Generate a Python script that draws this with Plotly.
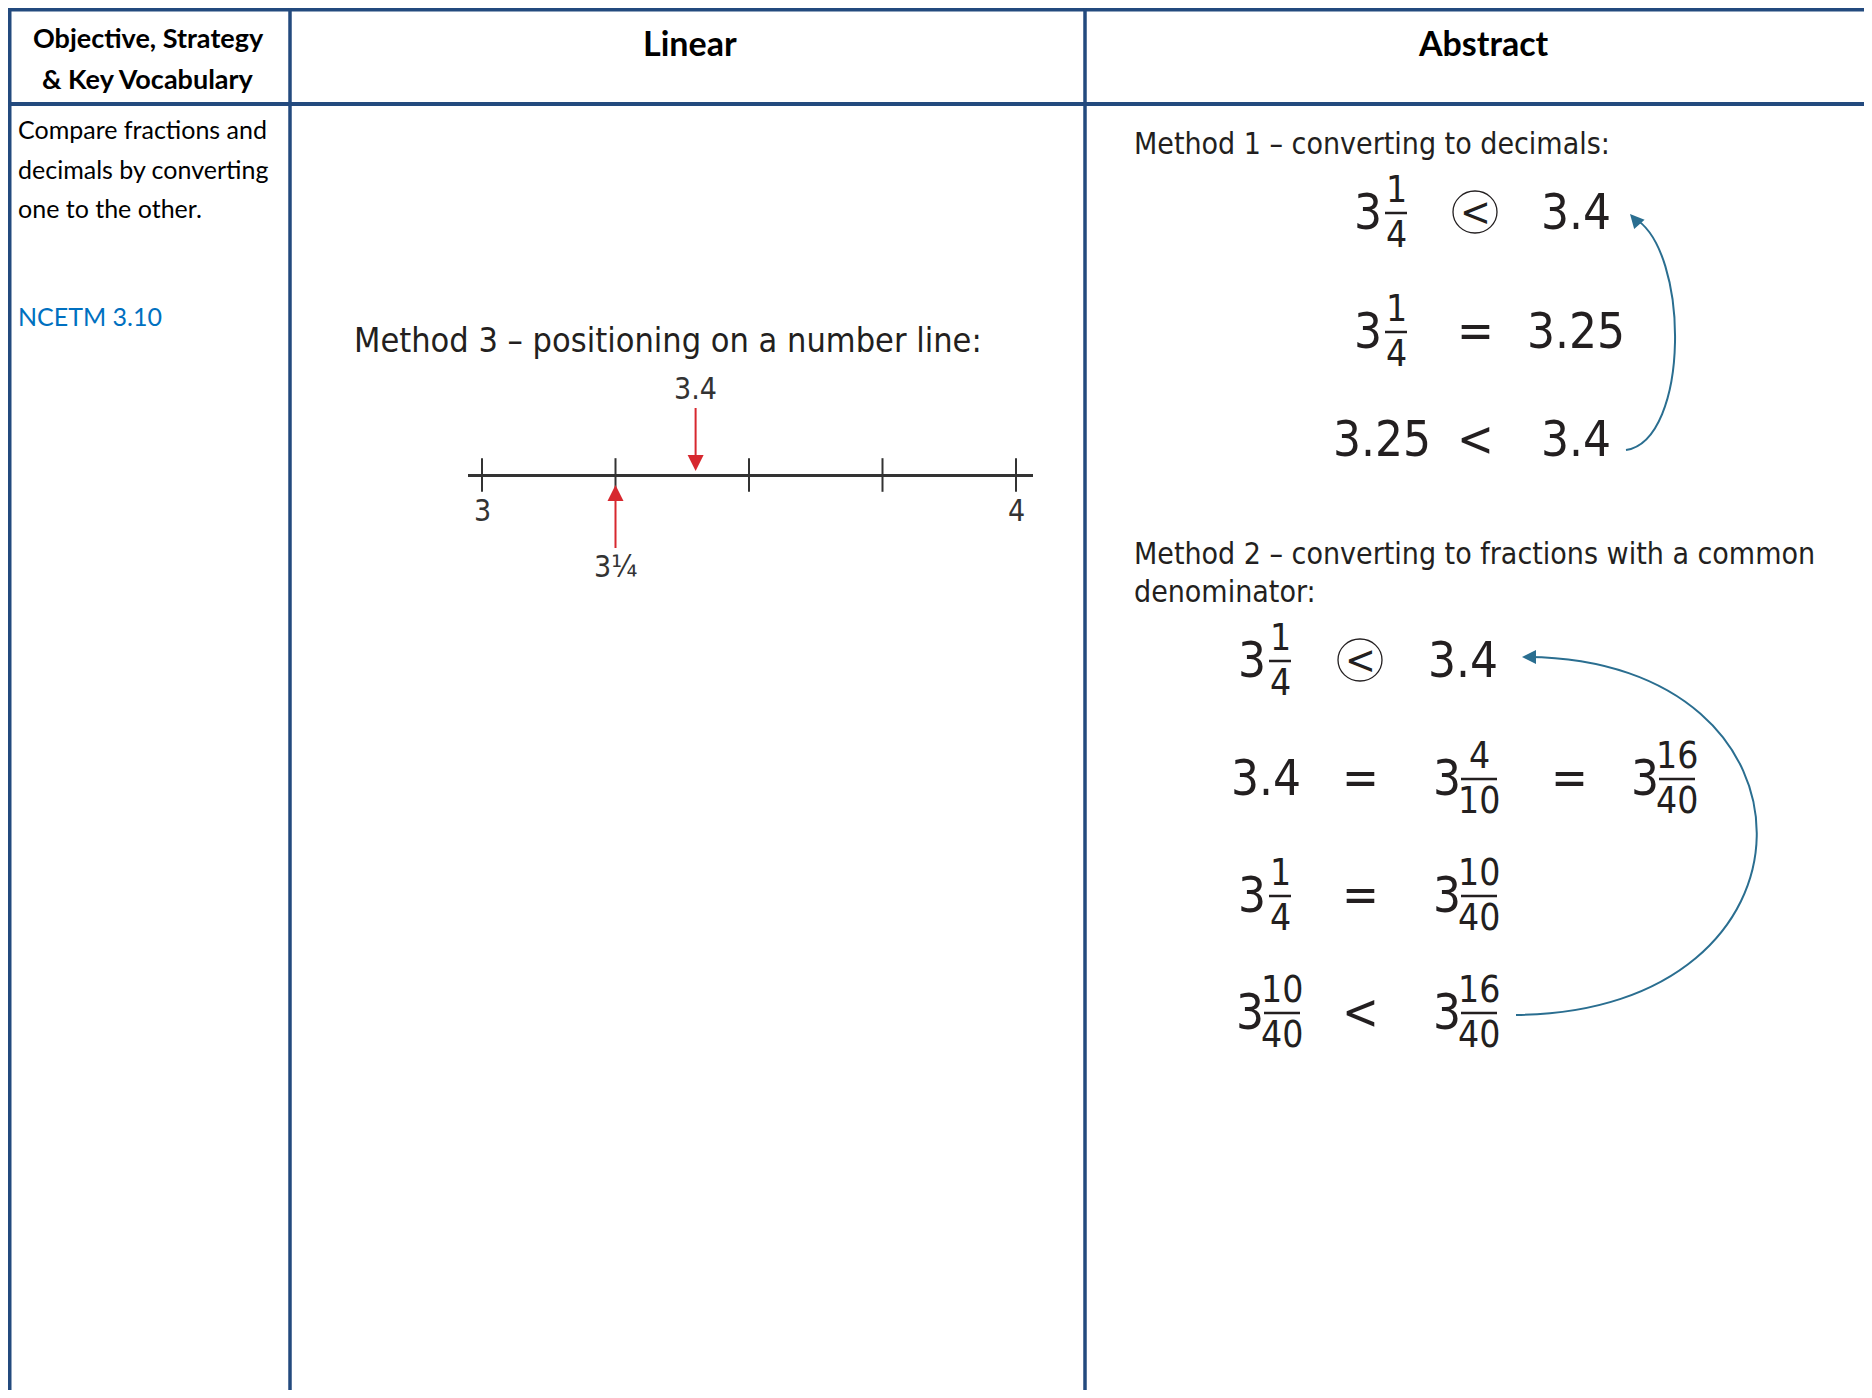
import plotly.graph_objects as go

# ---- table text ----
header_titles = ["Objective, Strategy", "& Key Vocabulary", "Linear", "Abstract"]
objective_lines = ["Compare fractions and", "decimals by converting", "one to the other."]
reference_code = "NCETM 3.10"

# ---- linear column: number line ----
tick_values = [3, 3.25, 3.5, 3.75, 4]
tick_labels = ["3", "", "", "", "4"]
marked_values = [3.4, 3.25]
marked_labels = ["3.4", "3¼"]
marked_side = ["above", "below"]
method3_title = "Method 3 – positioning on a number line:"

# ---- abstract column ----
# a tuple is a mixed number (whole, numerator, denominator), "(<)" is a circled "<"
method1_title = "Method 1 – converting to decimals:"
method1_rows = [
    [(3, 1, 4), "(<)", "3.4"],
    [(3, 1, 4), "=", "3.25"],
    ["3.25", "<", "3.4"],
]
method2_title = ["Method 2 – converting to fractions with a common", "denominator:"]
method2_rows = [
    [(3, 1, 4), "(<)", "3.4"],
    ["3.4", "=", (3, 4, 10), "=", (3, 16, 40)],
    [(3, 1, 4), "=", (3, 10, 40)],
    [(3, 10, 40), "<", (3, 16, 40)],
]

# page geometry (body margin of the html page is 8px)
OFF = 8
W, H = 1856, 1382
BLUE = "#234a7e"
TEAL = "#2a6e90"
RED = "#d7282f"
INK = "#231f20"
BODY = "Lato, 'Open Sans', sans-serif"
MATH = "'Liberation Sans Narrow', 'DejaVu Sans Condensed', 'Roboto Condensed', Roboto, sans-serif"
MATH_SIZE = 49
FRAC_SIZE = 37


def paper_x(px):
    return (px - OFF) / W


def paper_y(py):
    return 1 - (py - OFF) / H


fig = go.Figure()
# invisible trace to hold the page canvas axes
fig.add_trace(go.Scatter(x=[OFF], y=[OFF], mode="markers", marker=dict(opacity=0),
                         hoverinfo="skip", xaxis="x", yaxis="y"))


def text(x, y, s, size, family=MATH, color=INK, xanchor="center", weight="normal"):
    fig.add_annotation(x=x, y=y, xref="x", yref="y", text=s, showarrow=False,
                       xanchor=xanchor, yanchor="middle",
                       font=dict(size=size, family=family, color=color, weight=weight))


def hline(x0, x1, y, color, width):
    fig.add_shape(type="line", xref="x", yref="y", x0=x0, x1=x1, y0=y, y1=y,
                  line=dict(color=color, width=width))


def vline(x, y0, y1, color, width):
    fig.add_shape(type="line", xref="x", yref="y", x0=x, x1=x, y0=y0, y1=y1,
                  line=dict(color=color, width=width))


def mixed(cx, cy, whole, num, den):
    nd = max(len(str(num)), len(str(den)))
    half = 14 if nd == 1 else 16
    xw, xf = cx - half, cx + half
    text(xw, cy, str(whole), MATH_SIZE)
    text(xf, cy - 23, str(num), FRAC_SIZE)
    text(xf, cy + 22, str(den), FRAC_SIZE)
    bw = 11 if nd == 1 else 18
    hline(xf - bw, xf + bw, cy + 1, INK, 2.5)


def token(cx, cy, tok):
    if isinstance(tok, tuple):
        mixed(cx, cy, *tok)
    elif tok == "(<)":
        text(cx, cy, "<", int(MATH_SIZE * 0.85))
        fig.add_shape(type="circle", xref="x", yref="y", x0=cx - 22, x1=cx + 22,
                      y0=cy - 21, y1=cy + 21, line=dict(color=INK, width=1.3))
    else:
        text(cx, cy, tok, MATH_SIZE)


# ---- table ----
hline(0, 1880, 9.5, BLUE, 4)
hline(0, 1880, 104, BLUE, 4)
vline(9.5, 0, 1400, BLUE, 4)
vline(290, 0, 1400, BLUE, 3.5)
vline(1085, 0, 1400, BLUE, 3.5)

text(148, 37, header_titles[0], 27, BODY, "black", weight="bold")
text(148, 78, header_titles[1], 27, BODY, "black", weight="bold")
text(690, 42, header_titles[2], 34, BODY, "black", weight="bold")
text(1483, 42, header_titles[3], 34, BODY, "black", weight="bold")

for i, line in enumerate(objective_lines):
    text(16, 129 + 39.5 * i, line, 25, BODY, "black", xanchor="left")
text(16, 316, reference_code, 25, BODY, "#0070c0", xanchor="left")

# ---- linear: number line on its own axes ----
line_px = (468, 1033)
unit_px = (482, 1016)
line_y = 475
ppu = (unit_px[1] - unit_px[0]) / (tick_values[-1] - tick_values[0])
fig.update_layout(
    xaxis2=dict(domain=[paper_x(line_px[0]), paper_x(line_px[1])],
                range=[tick_values[0] - (unit_px[0] - line_px[0]) / ppu,
                       tick_values[-1] + (line_px[1] - unit_px[1]) / ppu],
                anchor="y2", showgrid=False, zeroline=False, showticklabels=False,
                showline=False, ticks=""),
    yaxis2=dict(domain=[paper_y(line_y + 20), paper_y(line_y - 20)], range=[-1, 1],
                anchor="x2", showgrid=False, zeroline=True, zerolinecolor="#333333",
                zerolinewidth=2.5, showticklabels=False, showline=False, ticks=""),
)
fig.add_trace(go.Scatter(
    x=tick_values, y=[0] * len(tick_values), xaxis="x2", yaxis="y2",
    mode="markers", cliponaxis=False,
    marker=dict(symbol="line-ns", size=24, line=dict(width=2, color="#333333")),
    hoverinfo="skip",
))
for v, lab in zip(tick_values, tick_labels):
    if lab:
        fig.add_annotation(x=v, y=0, xref="x2", yref="y2", text=lab, showarrow=False,
                           yanchor="middle", yshift=-36,
                           font=dict(size=30, family=MATH, color="#333333"))
for v, lab, side in zip(marked_values, marked_labels, marked_side):
    fig.add_annotation(x=v, y=0, xref="x2", yref="y2", text=lab, showarrow=True,
                       ax=0, ay=-86 if side == "above" else 92,
                       arrowhead=2, arrowsize=1.6, arrowwidth=2, arrowcolor=RED,
                       standoff=4 if side == "above" else 10,
                       font=dict(size=30, family=MATH, color="#333333"))

text(352, 340, method3_title, 34, MATH, INK, xanchor="left")

# ---- abstract: method 1 ----
text(1132, 143, method1_title, 30, MATH, INK, xanchor="left")
m1_cols = [1382, 1475, 1576]
m1_rows_y = [212, 331, 439]
for row, cy in zip(method1_rows, m1_rows_y):
    for tok, cx in zip(row, m1_cols):
        token(cx, cy, tok)
fig.add_shape(type="path", xref="x", yref="y",
              path="M 1626,450 C 1690,440 1690,250 1634,218",
              line=dict(color=TEAL, width=2))
fig.add_annotation(x=1630, y=214, xref="x", yref="y", text="", showarrow=True,
                   ax=9, ay=10, arrowhead=2, arrowsize=1.4, arrowwidth=2, arrowcolor=TEAL)

# ---- abstract: method 2 ----
text(1132, 553, method2_title[0], 30, MATH, INK, xanchor="left")
text(1132, 591, method2_title[1], 30, MATH, INK, xanchor="left")
m2_cols = [1266, 1360, 1463, 1569, 1661]
m2_rows_y = [660, 778, 895, 1012]
for row, cy in zip(method2_rows, m2_rows_y):
    for tok, cx in zip(row, m2_cols):
        token(cx, cy, tok)
fig.add_shape(type="path", xref="x", yref="y",
              path="M 1516,1015 C 1835,1012 1835,660 1528,657",
              line=dict(color=TEAL, width=2))
fig.add_annotation(x=1522, y=657, xref="x", yref="y", text="", showarrow=True,
                   ax=12, ay=0, arrowhead=2, arrowsize=1.4, arrowwidth=2, arrowcolor=TEAL)

fig.update_layout(
    width=W, height=H, margin=dict(l=0, r=0, t=0, b=0),
    paper_bgcolor="white", plot_bgcolor="rgba(0,0,0,0)", showlegend=False,
    xaxis=dict(range=[OFF, OFF + W], domain=[0, 1], visible=False),
    yaxis=dict(range=[OFF + H, OFF], domain=[0, 1], visible=False),
)

fig.write_html("out.html")
